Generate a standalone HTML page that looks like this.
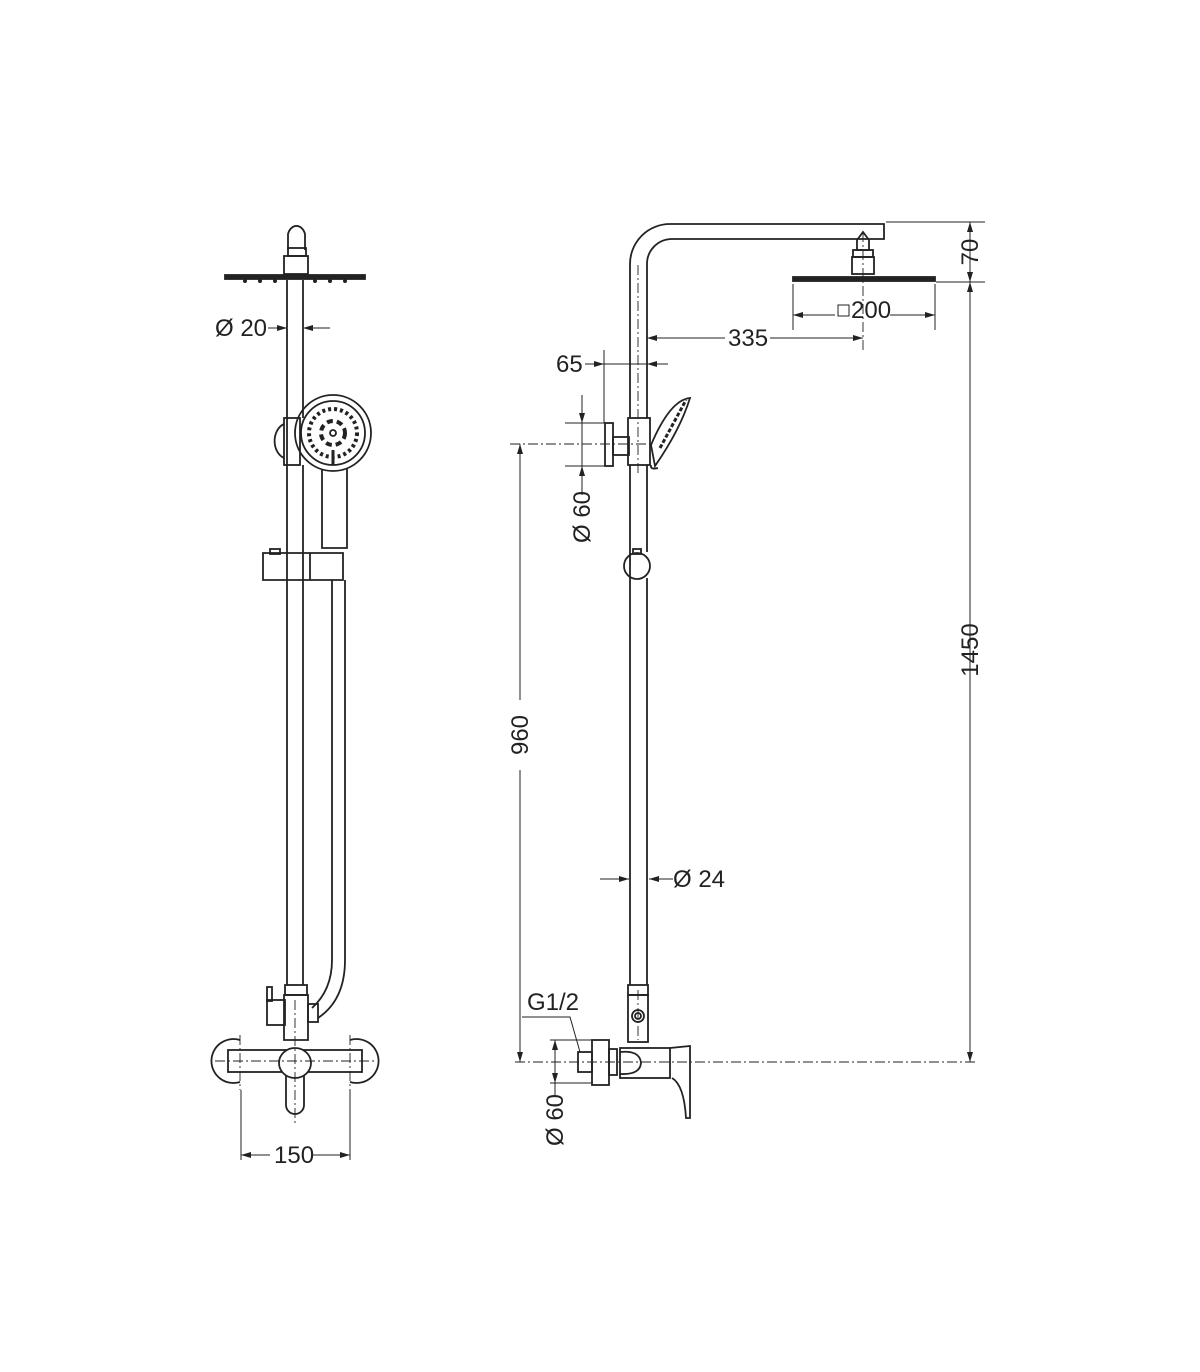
<!DOCTYPE html>
<html><head><meta charset="utf-8"><style>
html,body{margin:0;padding:0;background:#fff;}
svg{display:block;}
text{font-family:"Liberation Sans Narrow","Liberation Sans",sans-serif;font-size:24px;fill:#222;}
</style></head><body>
<svg width="1200" height="1372" viewBox="0 0 1200 1372" xmlns="http://www.w3.org/2000/svg">
<defs>
<marker id="a" viewBox="0 0 10 6" refX="10" refY="3" markerWidth="14" markerHeight="6" markerUnits="userSpaceOnUse" orient="auto"><path d="M0,0 L10,3 L0,6z" fill="#222"/></marker>
</defs>
<g fill="none" stroke="#222" stroke-width="1.8">
<!-- LEFT VIEW -->
<path d="M288,250 L288,234 A9,12 0 0 1 305,234 L305,250" />
<rect x="288" y="248" width="18" height="8"/>
<rect x="284" y="256" width="24" height="18"/>
<rect x="225" y="275" width="140" height="4" fill="#222"/>
<g fill="#222" stroke="none">
<circle cx="245" cy="281" r="2"/><circle cx="260" cy="281" r="2"/><circle cx="275" cy="281" r="2"/><circle cx="315" cy="281" r="2"/><circle cx="330" cy="281" r="2"/><circle cx="345" cy="281" r="2"/>
</g>
<line x1="287" y1="280" x2="287" y2="985"/><line x1="303" y1="280" x2="303" y2="418"/>
<line x1="303" y1="465" x2="303" y2="985"/>
<rect x="284" y="418" width="16" height="47"/>
<path d="M284,424 A14,18 0 0 0 284,458"/>
<circle cx="333" cy="433" r="38"/><circle cx="333" cy="433" r="32"/>
<circle cx="333" cy="433" r="24" stroke-dasharray="3 3" stroke-width="4"/>
<circle cx="333" cy="433" r="12" stroke-width="4" stroke-dasharray="6 4"/>
<circle cx="333" cy="433" r="3"/>
<path d="M322,469 L322,548 L347,548 L347,469"/>
<line x1="333" y1="450" x2="333" y2="465" stroke-width="3"/>
<path d="M263,553 L343,553 L343,580 L263,580 Z"/>
<line x1="310" y1="553" x2="310" y2="580"/>
<rect x="270" y="549" width="10" height="5"/>
<path d="M332,580 L332,960 Q332,990 312,1008" />
<path d="M345,580 L345,960 Q345,1000 318,1018" />
<rect x="285" y="985" width="22" height="10"/>
<path d="M284,995 L308,995 L308,1040 L284,1040 Z"/>
<rect x="267" y="1000" width="18" height="25"/>
<rect x="267" y="987" width="5" height="14"/>
<rect x="308" y="1004" width="10" height="18"/>
<path d="M240,1040 A22,22 0 1 0 240,1082"/><path d="M350,1040 A22,22 0 1 1 350,1082"/>
<rect x="228" y="1050" width="134" height="22" fill="#fff"/>
<ellipse cx="295" cy="1063" rx="16" ry="15" fill="#fff"/>
<path d="M286,1075 L286,1105 A9,9 0 0 0 304,1105 L304,1075"/>
</g>
<g fill="none" stroke="#222" stroke-width="0.9" stroke-dasharray="10 3 2 3">
<line x1="215" y1="1061" x2="375" y2="1061"/>
<line x1="295" y1="1000" x2="295" y2="1125"/>
<line x1="240" y1="1035" x2="240" y2="1090"/><line x1="350" y1="1035" x2="350" y2="1090"/>
</g>
<g fill="none" stroke="#222" stroke-width="1">
<line x1="241" y1="1090" x2="241" y2="1160"/><line x1="350" y1="1090" x2="350" y2="1160"/>
<line x1="270" y1="1155" x2="241" y2="1155" marker-end="url(#a)"/>
<line x1="312" y1="1155" x2="350" y2="1155" marker-end="url(#a)"/>
<line x1="268" y1="328" x2="287" y2="328" marker-end="url(#a)"/>
<line x1="330" y1="328" x2="303" y2="328" marker-end="url(#a)"/>
</g>
<text x="215" y="336">Ø 20</text>
<text x="274" y="1163">150</text>

<!-- RIGHT VIEW -->
<g fill="none" stroke="#222" stroke-width="1.8">
<path d="M630,418 L630,264 A40,40 0 0 1 670,224 L884,224 L884,239 L672,239 A25,25 0 0 0 647,264 L647,418"/>
<line x1="630" y1="465" x2="630" y2="985"/><line x1="647" y1="465" x2="647" y2="552"/>
<line x1="647" y1="578" x2="647" y2="985"/>
<path d="M857,250 L857,240 L863,232 L869,240 L869,250 Z"/>
<rect x="853" y="250" width="20" height="7"/>
<rect x="852" y="257" width="22" height="17"/>
<rect x="793" y="277" width="142" height="4" fill="#222"/>
<rect x="605" y="423" width="8" height="43"/>
<rect x="613" y="437" width="16" height="18"/>
<rect x="628" y="418" width="22" height="47"/>
<path d="M651,445 Q670,400 690,398 Q680,430 655,466 Z"/>
<path d="M660,448 L686,400" stroke-dasharray="4 2" stroke-width="3"/>
<path d="M651,465 Q650,470 658,468"/>
<circle cx="637" cy="566" r="13"/>
<rect x="633" y="549" width="8" height="5"/>
<rect x="628" y="985" width="20" height="10"/>
<rect x="628" y="995" width="20" height="47"/>
<circle cx="638" cy="1016" r="6"/><circle cx="638" cy="1016" r="3"/>
<rect x="620" y="1048" width="50" height="30"/>
<path d="M620,1052 Q640,1050 641,1063 Q640,1075 620,1074"/>
<rect x="609" y="1049" width="8" height="26"/>
<rect x="592" y="1040" width="17" height="45"/>
<rect x="578" y="1052" width="14" height="20"/>
<path d="M670,1048 L690,1046 L690,1118 L686,1118 Q684,1085 672,1078"/>
</g>
<g fill="none" stroke="#222" stroke-width="0.9" stroke-dasharray="10 3 2 3">
<line x1="638" y1="265" x2="638" y2="475"/>
<line x1="863" y1="232" x2="863" y2="350"/>
<line x1="510" y1="444" x2="650" y2="444"/>
<line x1="515" y1="1062" x2="975" y2="1062"/>
<line x1="638" y1="990" x2="638" y2="1040"/>
</g>
<g fill="none" stroke="#222" stroke-width="1">
<line x1="886" y1="222" x2="985" y2="222"/><line x1="936" y1="282" x2="985" y2="282"/>
<line x1="970" y1="260" x2="970" y2="222" marker-end="url(#a)"/>
<line x1="970" y1="245" x2="970" y2="282" marker-end="url(#a)"/>
<line x1="970" y1="300" x2="970" y2="282" marker-end="url(#a)"/>
<line x1="970" y1="300" x2="970" y2="1062" marker-end="url(#a)"/>
<line x1="793" y1="284" x2="793" y2="330"/><line x1="935" y1="284" x2="935" y2="330"/>
<line x1="835" y1="315" x2="793" y2="315" marker-end="url(#a)"/>
<line x1="890" y1="315" x2="935" y2="315" marker-end="url(#a)"/>
<line x1="725" y1="338" x2="647" y2="338" marker-end="url(#a)"/>
<line x1="770" y1="338" x2="863" y2="338" marker-end="url(#a)"/>
<line x1="604" y1="350" x2="604" y2="423"/>
<line x1="585" y1="364" x2="604" y2="364" marker-end="url(#a)"/>
<line x1="668" y1="364" x2="647" y2="364" marker-end="url(#a)"/>
<line x1="604" y1="364" x2="647" y2="364"/>
<line x1="565" y1="423" x2="605" y2="423"/><line x1="565" y1="466" x2="605" y2="466"/>
<line x1="582" y1="395" x2="582" y2="423" marker-end="url(#a)"/>
<line x1="582" y1="495" x2="582" y2="466" marker-end="url(#a)"/>
<line x1="582" y1="423" x2="582" y2="466"/>
<line x1="520" y1="700" x2="520" y2="444" marker-end="url(#a)"/>
<line x1="520" y1="770" x2="520" y2="1062" marker-end="url(#a)"/>
<line x1="600" y1="879" x2="629" y2="879" marker-end="url(#a)"/>
<line x1="673" y1="879" x2="649" y2="879" marker-end="url(#a)"/>
<path d="M522,1017 L570,1017 L580,1052"/>
<line x1="550" y1="1040" x2="592" y2="1040"/><line x1="550" y1="1083" x2="592" y2="1083"/>
<line x1="555" y1="1062" x2="555" y2="1040" marker-end="url(#a)"/>
<line x1="555" y1="1062" x2="555" y2="1083" marker-end="url(#a)"/>
<line x1="555" y1="1083" x2="555" y2="1095"/>
</g>
<rect x="838" y="305" width="11" height="11" fill="none" stroke="#222" stroke-width="1"/>
<text x="851" y="318">200</text>
<text x="728" y="346">335</text>
<text x="556" y="372">65</text>
<text x="673" y="887">Ø 24</text>
<text x="527" y="1010">G1/2</text>
<text transform="translate(978,252) rotate(-90)" text-anchor="middle">70</text>
<text transform="translate(978,650) rotate(-90)" text-anchor="middle">1450</text>
<text transform="translate(528,735) rotate(-90)" text-anchor="middle">960</text>
<text transform="translate(590,517) rotate(-90)" text-anchor="middle">Ø 60</text>
<text transform="translate(563,1120) rotate(-90)" text-anchor="middle">Ø 60</text>
</svg>
</body></html>
